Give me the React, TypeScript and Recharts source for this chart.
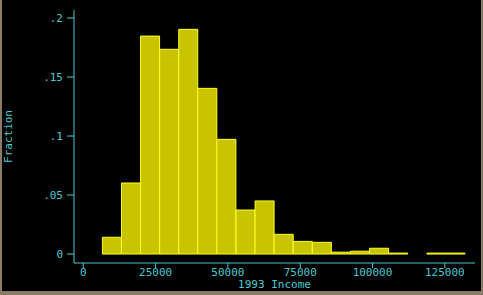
import React from "react";
import { BarChart, Bar, XAxis, YAxis } from "recharts";

// histogram of 1993 income, 19 bins of width 6600
const binMids: number[] = [
  9900, 16500, 23100, 29700, 36300, 42900, 49500, 56100, 62700, 69300,
  75900, 82500, 89100, 95700, 102300, 108900, 115500, 122100, 128700,
];
const fractions: number[] = [
  0.0142, 0.0602, 0.1847, 0.1735, 0.1904, 0.1404, 0.0972, 0.0373, 0.045,
  0.0167, 0.0107, 0.0099, 0.0016, 0.0024, 0.0049, 0.0008, 0, 0.0008, 0.0008,
];
const xTicks: number[] = [0, 25000, 50000, 75000, 100000, 125000];
const yTicks: number[] = [0, 0.05, 0.1, 0.15, 0.2];
const yTickLabels: string[] = ["0", ".05", ".1", ".15", ".2"];

const data = binMids.map((mid, i) => ({ income: mid, fraction: fractions[i] }));

const CYAN = "#48c8d0";
const FONT = "'DejaVu Sans Mono', monospace";

const App = () => {
  return (
    <div
      style={{
        width: 483,
        height: 295,
        boxSizing: "border-box",
        borderLeft: "2px solid #8a7a68",
        borderRight: "2px solid #8a7a68",
        borderBottom: "4px solid #8a7a68",
        background: "#000",
      }}
    >
      <style>{`body{margin:0}`}</style>
      <BarChart
        width={479}
        height={291}
        data={data}
        margin={{ top: 10, right: 6, left: 0, bottom: 0 }}
        barCategoryGap={0}
        barGap={0}
      >
        <XAxis
          dataKey="income"
          type="number"
          domain={[-3216, 135440]}
          ticks={xTicks}
          allowDataOverflow
          height={28}
          tickSize={5}
          tickMargin={0}
          stroke={CYAN}
          tick={{ fill: CYAN, fontSize: 11, fontFamily: FONT }}
          label={{
            value: "1993 Income",
            position: "insideBottom",
            offset: 3,
            fill: CYAN,
            fontSize: 11,
            fontFamily: FONT,
          }}
        />
        <YAxis
          type="number"
          domain={[-0.0076, 0.2068]}
          ticks={yTicks}
          allowDataOverflow
          width={72}
          tickSize={7}
          tickMargin={4}
          stroke={CYAN}
          tickFormatter={(v: number) => yTickLabels[yTicks.indexOf(v)] ?? String(v)}
          tick={{ fill: CYAN, fontSize: 11, fontFamily: FONT }}
          label={{
            value: "Fraction",
            angle: -90,
            position: "insideLeft",
            offset: 6,
            fill: CYAN,
            fontSize: 11,
            fontFamily: FONT,
            style: { textAnchor: "middle" },
          }}
        />
        <Bar
          dataKey="fraction"
          fill="#c8c400"
          stroke="#ffff20"
          strokeWidth={1}
          isAnimationActive={false}
        />
      </BarChart>
    </div>
  );
};

export default App;
